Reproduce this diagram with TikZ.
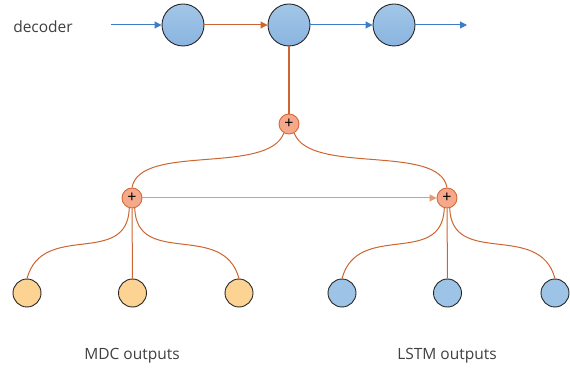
\documentclass[tikz,border=0pt]{standalone}
\usepackage{fontspec}
\setsansfont{Open Sans}
\usepackage{tikz}
\usetikzlibrary{arrows.meta,calc}

\definecolor{blueline}{HTML}{3D7CC9}
\definecolor{orangeline}{HTML}{CD6530}
\definecolor{lightorange}{HTML}{E39A70}
\definecolor{plusfill}{HTML}{F5A88A}
\definecolor{plusdraw}{HTML}{D26A3A}
\definecolor{mdcfill}{HTML}{FDD394}
\definecolor{lstmfill}{HTML}{9DC3E6}
\definecolor{labelgray}{HTML}{404040}

\begin{document}
\begin{tikzpicture}[
x=1pt, y=1pt,
dec/.style={
  circle,
  draw=black!85,
  line width=0.9pt,
  top color=lstmfill!95!white,
  bottom color=lstmfill!80!blueline,
  minimum size=42pt,
  inner sep=0pt
  },
outnode/.style={
  circle,
  draw=black!85,
  line width=0.9pt,
  minimum size=28pt,
  inner sep=0pt
  },
sum/.style={
  circle,
  draw=plusdraw,
  fill=plusfill,
  line width=0.9pt,
  minimum size=20pt,
  inner sep=0pt,
  font=\sffamily\fontsize{16}{16}\selectfont
  },
txt/.style={
  text=labelgray,
  font=\sffamily\fontsize{15.5}{18}\selectfont
  },
wire/.style={
  draw=orangeline,
  line width=1pt
  },
>={Triangle[length=7pt,width=7pt]}
]
\useasboundingbox (0,0) rectangle (570,372);

% decoder row
\node[txt] (declabel) at (43,345) {decoder};
\node[dec] (dec1) at (183,347) {};
\node[dec] (dec2) at (289,347) {};
\node[dec] (dec3) at (394,347) {};
\coordinate (decin) at (111,347);
\coordinate (decout) at (467,347);

\draw[->, blueline, line width=1pt] (decin) -- (dec1);
\draw[->, orangeline, line width=1pt] (dec1) -- (dec2);
\draw[->, blueline, line width=1pt] (dec2) -- (dec3);
\draw[->, blueline, line width=1pt] (dec3) -- (decout);

% sums
\node[sum] (sumtop) at (289,248) {+};
\node[sum] (summdc) at (132,174) {+};
\node[sum] (sumlstm) at (447,174) {+};

\draw[orangeline, line width=1.2pt] (dec2.south) -- (sumtop.north);
\draw[->, lightorange, line width=1pt] (summdc) -- (sumlstm);
\draw[wire] (sumtop.240) .. controls +(250:45) and +(80:45) .. (summdc.north);
\draw[wire] (sumtop.300) .. controls +(290:45) and +(100:45) .. (sumlstm.north);

% outputs
\foreach \i/\x in {1/27,2/132.5,3/239}
  \node[outnode, fill=mdcfill] (mdc\i) at (\x,79) {};
\foreach \i/\x in {1/342,2/447.5,3/555}
  \node[outnode, fill=lstmfill] (lstm\i) at (\x,79) {};

\foreach \s/\o in {summdc/mdc,sumlstm/lstm}
{
  \draw[wire] (\s.255) .. controls +(268:60) and +(75:60) .. (\o1.north);
  \draw[wire] (\s.south) -- (\o2.north);
  \draw[wire] (\s.285) .. controls +(272:60) and +(105:60) .. (\o3.north);
}

\node[txt] (mdclabel) at (132,16) {MDC outputs};
\node[txt] (lstmlabel) at (447,16) {LSTM outputs};

\end{tikzpicture}
\end{document}
